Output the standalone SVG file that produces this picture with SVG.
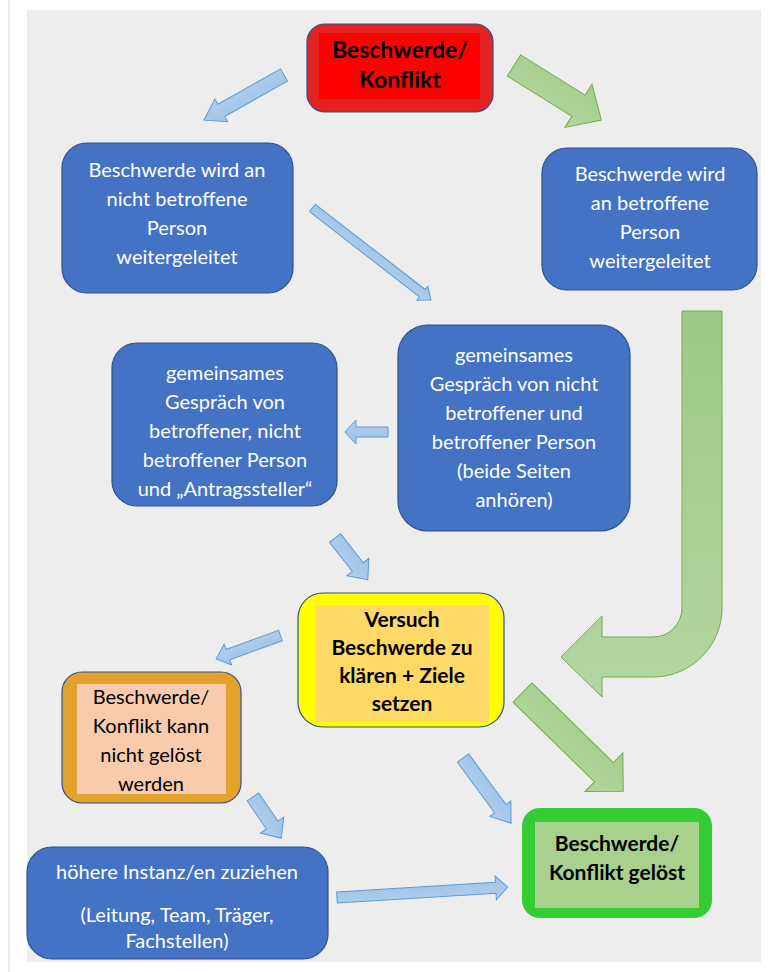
<svg xmlns="http://www.w3.org/2000/svg" width="784" height="972" viewBox="0 0 784 972">
<style>
.bg{fill:#ededed}
.blue{fill:#4472c4;stroke:#2f528f;stroke-width:1.2}
.wt{font-family:Lato,"Open Sans","Liberation Sans",sans-serif;font-size:20px;fill:#ffffff;text-anchor:middle}
.bt{font-family:Lato,"Open Sans","Liberation Sans",sans-serif;font-size:21px;font-weight:bold;fill:#000000;text-anchor:middle}
.big{font-size:23px}
.rt{font-family:Lato,"Open Sans","Liberation Sans",sans-serif;font-size:20px;fill:#000000;text-anchor:middle}
.ba{fill:url(#gb);stroke:#5b9bd5;stroke-width:1}
.ga{fill:url(#gg);stroke:#70ad47;stroke-width:1}
</style>
<defs>
<linearGradient id="gb" x1="0" y1="0" x2="0" y2="1">
<stop offset="0" stop-color="#9dc3e6"/>
<stop offset="1" stop-color="#b4cfee"/>
</linearGradient>
<linearGradient id="gg" x1="0" y1="0" x2="0" y2="1">
<stop offset="0" stop-color="#a3cd8c"/>
<stop offset="1" stop-color="#b3d5a0"/>
</linearGradient>
<linearGradient id="gg2" x1="0" y1="0" x2="0" y2="1">
<stop offset="0" stop-color="#9cc986"/>
<stop offset="1" stop-color="#b5d6a2"/>
</linearGradient>
</defs>
<line x1="9" y1="0" x2="9" y2="972" stroke="#dcdcdc" stroke-width="1"/>
<rect class="bg" x="27" y="10" width="734" height="952"/>

<g id="connectors">
<!-- red -> A -->
<path class="ba" transform="translate(284,75) rotate(150.6)" d="M0,-7 L72,-7 L72,-13 L92,0 L72,13 L72,7 L0,7 Z"/>
<!-- red -> B -->
<path class="ga" transform="translate(514,65.5) rotate(32)" d="M0,-12.5 L76,-12.5 L76,-25.5 L103,0 L76,25.5 L76,12.5 L0,12.5 Z"/>
<!-- A -> C -->
<path class="ba" transform="translate(312.5,208) rotate(37.8)" d="M0,-4.7 L139,-4.7 L139,-9 L150,0 L139,9 L139,4.7 L0,4.7 Z"/>
<!-- C -> D -->
<path class="ba" transform="translate(388,432) rotate(180)" d="M0,-5 L32,-5 L32,-12 L43,0 L32,12 L32,5 L0,5 Z"/>
<!-- D -> E -->
<path class="ba" transform="translate(335,538) rotate(51.8)" d="M0,-7 L37,-7 L37,-14 L53,0 L37,14 L37,7 L0,7 Z"/>
<!-- E -> F -->
<path class="ba" transform="translate(280.5,635.5) rotate(160)" d="M0,-5.5 L56,-5.5 L56,-11 L68.5,0 L56,11 L56,5.5 L0,5.5 Z"/>
<!-- F -> H -->
<path class="ba" transform="translate(253,797) rotate(55.7)" d="M0,-7 L34,-7 L34,-14 L50,0 L34,14 L34,7 L0,7 Z"/>
<!-- E -> G blue -->
<path class="ba" transform="translate(463,758) rotate(53.6)" d="M0,-7 L63,-7 L63,-13 L81,0 L63,13 L63,7 L0,7 Z"/>
<!-- E -> G green -->
<path class="ga" transform="translate(522.5,692.5) rotate(44.4)" d="M0,-13.5 L114,-13.5 L114,-27 L141,0 L114,27 L114,13.5 L0,13.5 Z"/>
<!-- B -> E bent green -->
<path fill="url(#gg2)" stroke="#70ad47" stroke-width="1" d="M682,311 L722,311 L722,608 A69,69 0 0 1 653,677 L602,677 L602,697 L561,657 L602,616 L602,637 L653,637 A29,29 0 0 0 682,608 Z"/>
<!-- H -> G -->
<path class="ba" transform="translate(337,897.5) rotate(-3.5)" d="M0,-5.5 L159,-5.5 L159,-12 L171,0 L159,12 L159,5.5 L0,5.5 Z"/>
</g>

<g id="n-start">
<rect x="307" y="24" width="186" height="88" rx="18" fill="#e52222" stroke="#2f528f" stroke-width="1.2"/>
<rect x="319" y="33" width="161" height="66" fill="#ff0000"/>
<text class="bt big" x="400" y="58">Beschwerde/</text>
<text class="bt big" x="400" y="88">Konflikt</text>
</g>

<g id="n-nicht-betroffen">
<rect class="blue" x="62" y="143" width="231" height="150" rx="25"/>
<text class="wt" x="177" y="177">Beschwerde wird an</text>
<text class="wt" x="177" y="206">nicht betroffene</text>
<text class="wt" x="177" y="235">Person</text>
<text class="wt" x="177" y="264">weitergeleitet</text>
</g>

<g id="n-betroffen">
<rect class="blue" x="542" y="148" width="215" height="142" rx="25"/>
<text class="wt" x="650" y="181">Beschwerde wird</text>
<text class="wt" x="650" y="210">an betroffene</text>
<text class="wt" x="650" y="239">Person</text>
<text class="wt" x="650" y="268">weitergeleitet</text>
</g>

<g id="n-gespraech1">
<rect class="blue" x="398" y="325" width="232" height="206" rx="30"/>
<text class="wt" x="514" y="362">gemeinsames</text>
<text class="wt" x="514" y="391">Gespräch von nicht</text>
<text class="wt" x="514" y="420">betroffener und</text>
<text class="wt" x="514" y="449">betroffener Person</text>
<text class="wt" x="514" y="478">(beide Seiten</text>
<text class="wt" x="514" y="507">anhören)</text>
</g>

<g id="n-gespraech2">
<rect class="blue" x="112" y="343" width="225" height="163" rx="25"/>
<text class="wt" x="225" y="380">gemeinsames</text>
<text class="wt" x="225" y="409">Gespräch von</text>
<text class="wt" x="225" y="438">betroffener, nicht</text>
<text class="wt" x="225" y="467">betroffener Person</text>
<text class="wt" x="225" y="496">und „Antragssteller“</text>
</g>

<g id="n-versuch">
<rect x="298" y="593" width="206" height="134" rx="25" fill="#ffff00" stroke="#2f528f" stroke-width="1.2"/>
<rect x="315" y="605" width="174" height="117" fill="#ffd966"/>
<text class="bt" x="402" y="627">Versuch</text>
<text class="bt" x="402" y="655">Beschwerde zu</text>
<text class="bt" x="402" y="683">klären + Ziele</text>
<text class="bt" x="402" y="711">setzen</text>
</g>

<g id="n-nicht-geloest">
<rect x="62" y="672" width="179" height="131" rx="20" fill="#e3a22b" stroke="#2f528f" stroke-width="1.2"/>
<rect x="77" y="684" width="149" height="110" fill="#f8cbad"/>
<text class="rt" x="151" y="704">Beschwerde/</text>
<text class="rt" x="151" y="733">Konflikt kann</text>
<text class="rt" x="151" y="762">nicht gelöst</text>
<text class="rt" x="151" y="791">werden</text>
</g>

<g id="n-geloest">
<rect x="522" y="808" width="190" height="110" rx="18" fill="#33cc33"/>
<rect x="535" y="822" width="164" height="86" fill="#a9d18e"/>
<text class="bt" x="617" y="851">Beschwerde/</text>
<text class="bt" x="617" y="880">Konflikt gelöst</text>
</g>

<g id="n-instanz">
<rect class="blue" x="27" y="847" width="301" height="112" rx="25"/>
<text class="wt" x="177" y="879">höhere Instanz/en zuziehen</text>
<text class="wt" x="177" y="922">(Leitung, Team, Träger,</text>
<text class="wt" x="177" y="948">Fachstellen)</text>
</g>
</svg>
